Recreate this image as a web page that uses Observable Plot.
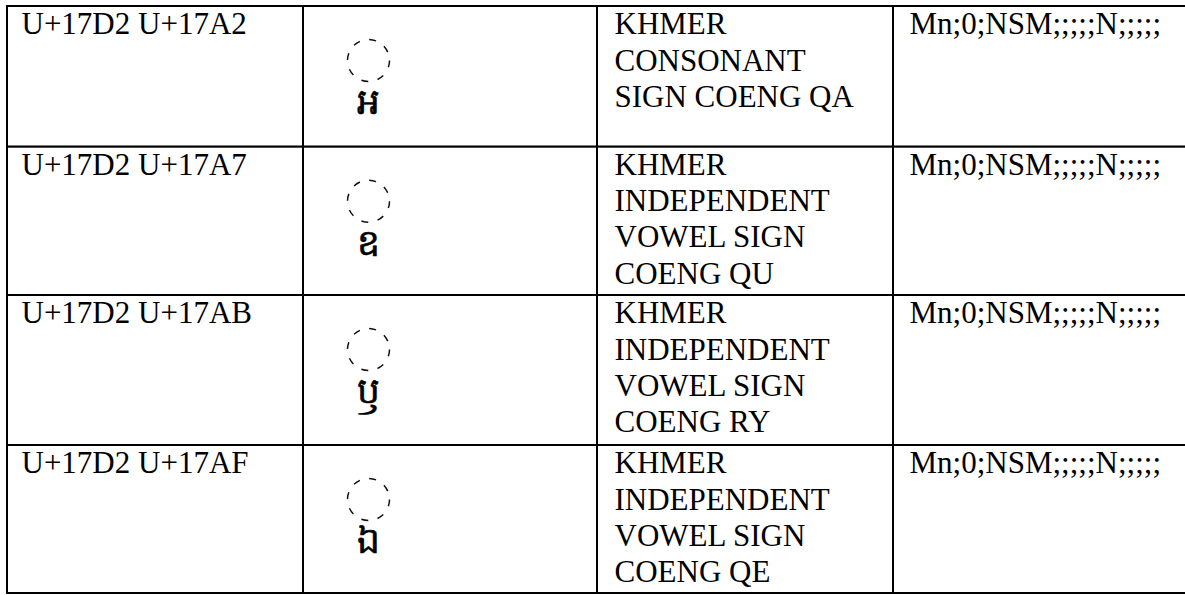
<!DOCTYPE html>
<html>
<head>
<meta charset="utf-8">
<script src="https://cdn.jsdelivr.net/npm/d3@7"></script>
<script src="https://cdn.jsdelivr.net/npm/@observablehq/plot@0.6"></script>
<style>
  html, body { margin: 0; padding: 0; background: #fff; }
  svg { display: block; }
</style>
</head>
<body>
<div id="chart"></div>
<script>
// --- data ---
const codes = ["U+17D2 U+17A2", "U+17D2 U+17A7", "U+17D2 U+17AB", "U+17D2 U+17AF"];
const glyphs = ["\u17A2", "\u17A7", "\u17AB", "\u17AF"];
const names = [
  "KHMER\nCONSONANT\nSIGN COENG QA",
  "KHMER\nINDEPENDENT\nVOWEL SIGN\nCOENG QU",
  "KHMER\nINDEPENDENT\nVOWEL SIGN\nCOENG RY",
  "KHMER\nINDEPENDENT\nVOWEL SIGN\nCOENG QE"
];
const props = ["Mn;0;NSM;;;;;N;;;;;", "Mn;0;NSM;;;;;N;;;;;", "Mn;0;NSM;;;;;N;;;;;", "Mn;0;NSM;;;;;N;;;;;"];
const columns = ["code", "glyph", "name", "props"];

// --- layout (table grid edges and paddings, in pixels) ---
const W = 1185, H = 595;
const colEdges = [7, 303, 597, 893, 1189];
const rowEdges = [6, 146.7, 295, 445, 593];
const colPad = [14, 0, 17, 16];
const fontSize = 31;
const serif = "Liberation Serif";

const rowIds = codes.map((_, i) => i);
const cells = [];
rowIds.forEach(r => columns.forEach((c, ci) => cells.push({row: r, col: ci})));
const textCells = [];
rowIds.forEach(r => {
  textCells.push({row: r, col: 0, text: codes[r]});
  textCells.push({row: r, col: 2, text: names[r]});
  textCells.push({row: r, col: 3, text: props[r]});
});
const glyphCells = rowIds.map(r => ({row: r, col: 1, text: glyphs[r]}));

const textMarks = [0, 2, 3].map(ci => Plot.text(textCells.filter(d => d.col === ci), {
  x: "col", y: "row", text: "text",
  textAnchor: "start", lineAnchor: "top", lineHeight: 1.17,
  dx: colPad[ci], dy: 2,
  fontSize, fill: "#000",
  fontFamily: serif
}));

const chart = Plot.plot({
  width: W,
  height: H,
  margin: 0,
  style: {background: "#fff", fontFamily: serif},
  x: {type: "linear", domain: d3.range(colEdges.length), range: colEdges, axis: null},
  y: {type: "linear", domain: d3.range(rowEdges.length), range: rowEdges, axis: null},
  marks: [
    Plot.rect(cells, {
      x1: "col", x2: d => d.col + 1, y1: "row", y2: d => d.row + 1,
      fill: "#fff", stroke: "#000", strokeWidth: 2, inset: 0
    }),
    ...textMarks,
    Plot.dot(glyphCells, {
      x: "col", y: "row", r: 21,
      dx: 65, dy: 54,
      stroke: "#111", strokeWidth: 1.5, strokeDasharray: "7,9.5", fill: "none"
    }),
    Plot.text(glyphCells, {
      x: "col", y: "row", text: "text",
      dx: 65, dy: 96,
      fontSize: 36, fill: "#000", stroke: "#000", strokeWidth: 0.6
    })
  ]
});
document.getElementById("chart").append(chart);
</script>
</body>
</html>
